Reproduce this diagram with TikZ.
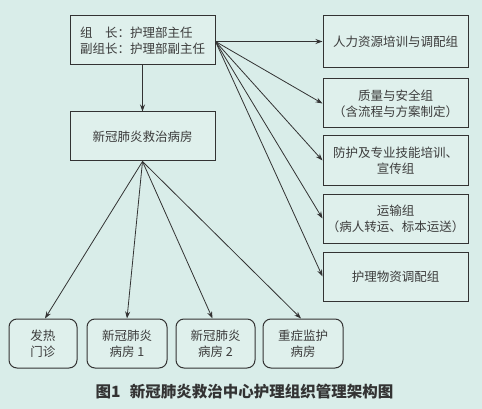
\documentclass[tikz,border=0pt]{standalone}
\usepackage{fontspec}
\setmainfont{Noto Sans CJK SC}
\usetikzlibrary{arrows.meta}
\definecolor{bg}{HTML}{D9EDE9}
\definecolor{boxfill}{HTML}{DFF0EC}
\definecolor{ink}{HTML}{333333}
\definecolor{txt}{HTML}{3C3C3C}
\tikzset{
  box/.style={draw=ink, line width=1pt, fill=boxfill, minimum width=145pt, minimum height=49pt,
    inner sep=0pt, align=center, text=txt, font=\fontsize{12.5}{16}\selectfont},
  rbox/.style={box, rounded corners=8pt, minimum height=49pt},
  arr/.style={draw=ink, line width=0.8pt, -{Stealth[length=7pt,width=5pt]}},
}
\begin{document}
\begin{tikzpicture}[x=1pt,y=-1pt]
\fill[bg] (0,0) rectangle (482,409);
\useasboundingbox (0,0) rectangle (482,409);

\node[box, align=left, text width=125pt] (top) at (142.5,40.5) {组　长：护理部主任\\副组长：护理部副主任};
\node[box] (mid) at (142.5,136.5) {新冠肺炎救治病房};

\node[box, minimum height=52pt] (r1) at (395.5,42) {人力资源培训与调配组};
\node[box] (r2) at (395.5,103.5) {质量与安全组\\（含流程与方案制定）};
\node[box] (r3) at (395.5,160.5) {防护及专业技能培训、\\宣传组};
\node[box] (r4) at (395.5,218.5) {运输组\\（病人转运、标本运送）};
\node[box] (r5) at (395.5,276.5) {护理物资调配组};

\node[rbox, minimum width=68pt] (b1) at (43,343.5) {发热\\门诊};
\node[rbox, minimum width=80pt] (b2) at (127,343.5) {新冠肺炎\\病房 1};
\node[rbox, minimum width=79pt] (b3) at (215.5,343.5) {新冠肺炎\\病房 2};
\node[rbox, minimum width=80pt] (b4) at (303,343.5) {重症监护\\病房};

\coordinate (src) at ([yshift=-1pt]top.east);
\draw[arr] (top) -- (mid);
\draw[arr] (src) -- (r1.west |- src);
\draw[arr] (src) -- (r2.west);
\draw[arr] (src) -- (r3.west);
\draw[arr] (src) -- (r4.west);
\draw[arr] (src) -- (r5.west);

\draw[arr] (mid.south) -- ([xshift=2pt]b1.north);
\draw[arr] (mid.south) -- (b2.north);
\draw[arr] (mid.south) -- ([xshift=-3pt]b3.north);
\draw[arr] (mid.south) -- ([xshift=-2pt]b4.north);

\node[text=ink, font=\fontsize{15.5}{18}\selectfont\bfseries, inner sep=0pt] (cap) at (244.5,392)
  {图1\hspace{0.6em}新冠肺炎救治中心护理组织管理架构图};
\end{tikzpicture}
\end{document}
